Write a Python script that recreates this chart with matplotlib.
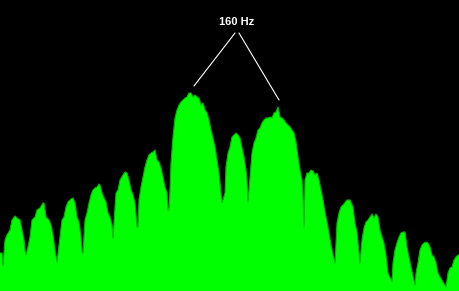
#!/usr/bin/env python3
"""Spectrum display: comb of lobes, 160 Hz spacing marked between the two main peaks."""
import numpy as np
import matplotlib
matplotlib.use('Agg')
import matplotlib.pyplot as plt

# ── Spectrum readings: bin position (px) and level (px above bottom) ─────────
BINS = [
    0, 2, 3, 5, 7, 10, 12, 15, 17, 20, 22, 24, 25, 26,
    28, 30, 32, 35, 37, 40, 43, 44, 46, 49, 51, 53, 55, 57,
    60, 62, 64, 66, 68, 71, 73, 75, 77, 79, 81, 82, 83,
    85, 87, 89, 91, 93, 95, 97, 99, 100, 102, 104, 106, 108, 110, 112, 113,
    115, 116, 118, 120, 123, 125, 127, 129, 131, 133, 135, 137, 138,
    139, 141, 143, 145, 147, 149, 151, 153, 155, 157, 159, 161, 163, 165, 167, 168, 169,
    170, 171, 173, 175, 177, 179, 181, 183, 185, 187, 189, 191, 193, 195, 197, 199,
    201, 203, 205, 207, 209, 211, 213, 215, 217, 219, 221, 222,
    225, 226, 228, 230, 232, 234, 236, 238, 240, 242, 244, 246, 247, 248,
    250, 252, 254, 256, 258, 260, 262, 264, 266, 268, 270, 272, 274, 276, 278,
    280, 282, 284, 286, 288, 290, 292, 294, 296, 298, 300, 302, 303, 304,
    305, 307, 309, 311, 313, 315, 317, 319, 321, 323, 325, 327, 329, 331, 333, 335,
    337, 339, 341, 343, 347, 350, 353, 355, 357, 360,
    362, 364, 366, 368, 370, 372, 374, 376, 378, 380, 382, 384, 386, 388, 392,
    393, 395, 397, 399, 401, 403, 405, 407, 409, 411, 415,
    416, 418, 420, 422, 424, 426, 428, 430, 432, 434, 436, 438, 440, 446,
    448, 450, 452, 454, 456, 458, 460,
]
LEVEL = [
    38, 38, 25, 51, 56, 61, 71, 75, 73, 71, 61, 51, 41, 36,
    44, 54, 71, 74, 81, 83, 88, 88, 74, 71, 66, 56, 41, 29,
    54, 71, 74, 84, 89, 92, 93, 88, 74, 69, 54, 38, 38,
    71, 78, 88, 96, 101, 103, 104, 107, 106, 98, 93, 89, 78, 74, 66, 53,
    84, 98, 101, 111, 116, 119, 118, 111, 101, 96, 88, 64, 64,
    91, 104, 114, 124, 131, 136, 138, 139, 141, 131, 129, 123, 114, 104, 98, 81, 81,
    101, 128, 154, 173, 181, 186, 189, 191, 193, 194, 198, 198, 194, 196, 194, 193,
    186, 188, 181, 178, 171, 161, 153, 144, 131, 118, 98, 88,
    98, 124, 138, 144, 154, 156, 158, 156, 153, 143, 134, 121, 111, 89,
    114, 138, 148, 153, 161, 163, 168, 171, 173, 173, 174, 173, 178, 179, 184,
    174, 173, 171, 168, 166, 164, 161, 158, 149, 134, 121, 111, 94, 64,
    111, 118, 118, 121, 120, 116, 118, 111, 101, 91, 79, 69, 58, 46, 36, 28,
    68, 78, 84, 86, 91, 91, 84, 68, 59, 28,
    51, 63, 69, 71, 74, 77, 73, 77, 74, 61, 54, 48, 36, 18, 9,
    28, 41, 48, 54, 58, 59, 59, 44, 34, 24, 6,
    18, 28, 41, 46, 48, 49, 48, 44, 36, 34, 28, 18, 14, 4,
    18, 23, 24, 31, 34, 36, 36,
]

LABEL = '160 Hz'
PEAK_SPANS = [(170, 222), (249, 303)]   # the two lobes 160 Hz apart

# ── Style ────────────────────────────────────────────────────────────────────
BG = '#000000'
GREEN = '#00FF00'
GREEN_EDGE = '#00B800'
WHITE = '#FFFFFF'

W, H, DPI = 460, 291, 100

fig = plt.figure(figsize=(W / DPI, H / DPI), dpi=DPI)
fig.patch.set_facecolor(BG)
ax = fig.add_axes([0, 0, 1, 1])
ax.set_facecolor(BG)
ax.set_xlim(0, W)
ax.set_ylim(0, H)
ax.axis('off')

x = np.array(BINS)
lvl = np.array(LEVEL)
ax.fill_between(x, 0, lvl, color=GREEN, linewidth=0, zorder=2)
ax.plot(x, lvl, color=GREEN_EDGE, lw=0.8, zorder=3)

# ── 160 Hz marker ────────────────────────────────────────────────────────────
label_xy = (237, H - 22)
ax.text(*label_xy, LABEL, ha='center', va='center', color=WHITE,
        fontsize=8, weight='bold', family='Liberation Sans', zorder=5)

ends = []
for (lo, hi), dx in zip(PEAK_SPANS, (5, 1)):
    sel = (x >= lo) & (x <= hi)
    i = np.argmax(lvl[sel])
    ends.append((x[sel][i] + dx, lvl[sel][i] + 7))

starts = [(235, H - 33), (239, H - 33)]
for s, e in zip(starts, ends):
    ax.annotate('', xy=e, xytext=s,
                arrowprops=dict(arrowstyle='-', color=WHITE, lw=0.8,
                                shrinkA=0, shrinkB=0), zorder=5)

plt.savefig('out.png', dpi=DPI, facecolor=BG)
plt.close()
